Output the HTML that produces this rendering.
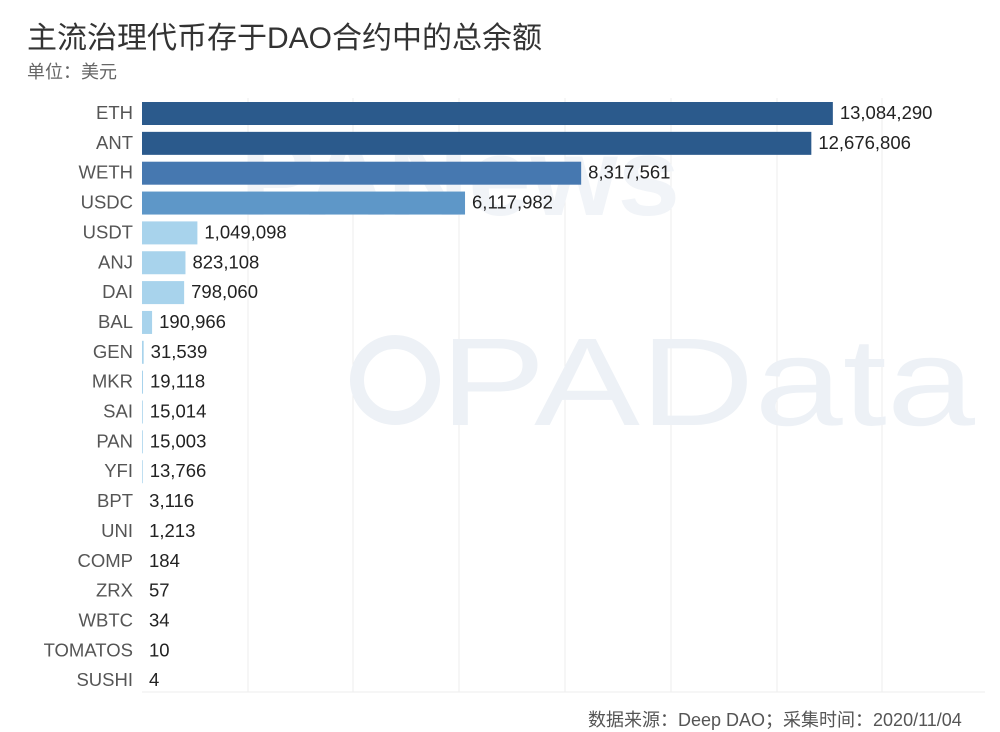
<!DOCTYPE html>
<html><head><meta charset="utf-8"><style>
body{margin:0;background:#fff;width:1000px;height:721px;overflow:hidden;position:relative;font-family:"Liberation Sans","Noto Sans CJK SC",sans-serif}
.t{position:absolute;left:27px;top:13px;font-size:30px;color:#333}
.s{position:absolute;left:27px;top:58px;font-size:18px;color:#666}
.f{position:absolute;left:588px;top:706px;font-size:18px;color:#555;white-space:nowrap}
</style></head><body>
<div class="t">主流治理代币存于DAO合约中的总余额</div>
<div class="s">单位：美元</div>
<svg width="1000" height="721" style="position:absolute;left:0;top:0">
<g stroke="#eeeeee" stroke-width="1">
<line x1="248" y1="98" x2="248" y2="692"/><line x1="353" y1="98" x2="353" y2="692"/>
<line x1="459" y1="98" x2="459" y2="692"/><line x1="565" y1="98" x2="565" y2="692"/>
<line x1="671" y1="98" x2="671" y2="692"/><line x1="777" y1="98" x2="777" y2="692"/>
<line x1="882" y1="98" x2="882" y2="692"/><line x1="142" y1="692" x2="985" y2="692"/>
</g>
<text x="440" y="425" font-size="125" fill="#edf1f6" font-family="Liberation Sans,sans-serif" textLength="535" lengthAdjust="spacingAndGlyphs">PAData</text>
<circle cx="395" cy="380" r="38" fill="none" stroke="#edf1f6" stroke-width="14"/>
<text x="240" y="215" font-size="110" fill="#f1f4f8" font-family="Liberation Sans,sans-serif" font-weight="bold" textLength="440" lengthAdjust="spacingAndGlyphs">PANews</text>
<g font-size="18.5" font-family="Liberation Sans,sans-serif">
<g id="bars"></g>
</g>
</svg>
<div class="f">数据来源：Deep DAO；采集时间：2020/11/04</div>
<script>
var d=[["ETH",13084290,"#2b5a8c"],["ANT",12676806,"#2b5a8c"],["WETH",8317561,"#4678b0"],["USDC",6117982,"#5e97c8"],["USDT",1049098],["ANJ",823108],["DAI",798060],["BAL",190966],["GEN",31539],["MKR",19118],["SAI",15014],["PAN",15003],["YFI",13766],["BPT",3116],["UNI",1213],["COMP",184],["ZRX",57],["WBTC",34],["TOMATOS",10],["SUSHI",4]];
var g=document.getElementById("bars"),h="";
d.forEach(function(r,i){var y=113+i*29.85,w=r[1]*52.8/1e6,c=r[2]||"#a8d3ec";
h+='<text x="133" y="'+(y+6)+'" text-anchor="end" fill="#555">'+r[0]+'</text>';
if(w>0.5)h+='<rect x="142" y="'+(y-11)+'" width="'+w+'" height="23" fill="'+c+'"/>';
h+='<text x="'+(142+Math.max(w,0)+7)+'" y="'+(y+6)+'" fill="#222">'+r[1].toLocaleString("en-US")+'</text>';});
g.innerHTML=h;
</script>
</body></html>
